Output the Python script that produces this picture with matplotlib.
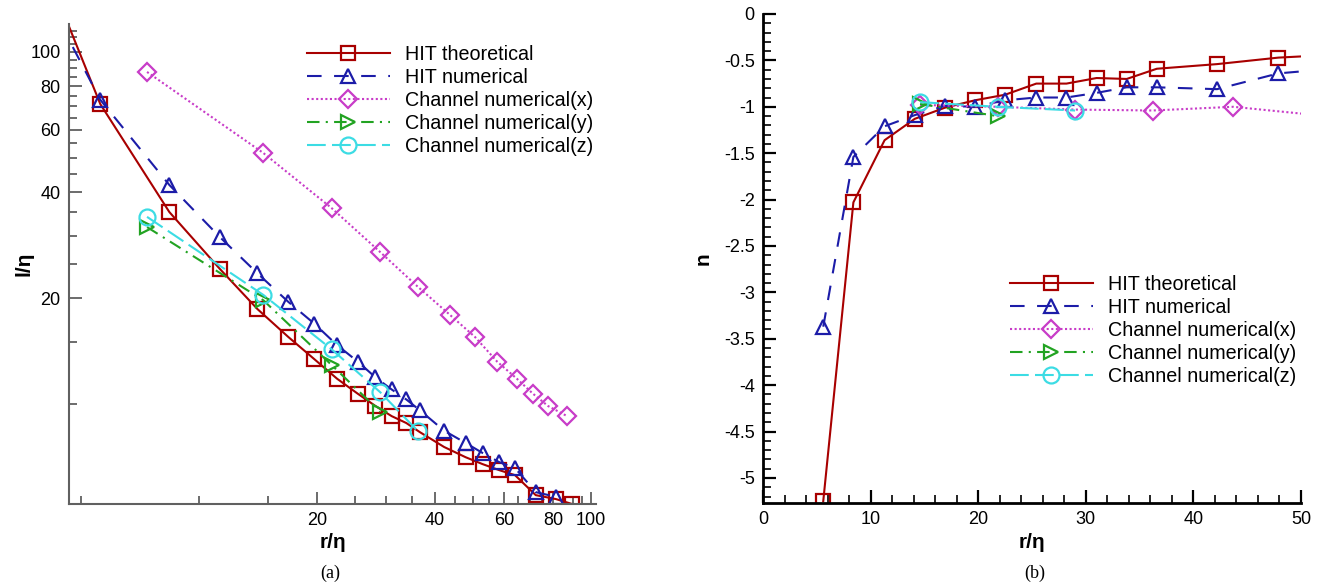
import matplotlib
matplotlib.use("Agg")
import matplotlib.pyplot as plt
from matplotlib.ticker import FixedLocator, FuncFormatter, NullFormatter, MultipleLocator

plt.rcParams["font.family"] = ["Liberation Sans", "DejaVu Sans"]

# separations r/eta shared by the HIT series
r_hit = [4.0, 5.6, 8.4, 11.3, 14.1, 16.9, 19.7, 22.5, 25.4, 28.2, 31.0, 33.8,
         36.6, 42.2, 47.9, 52.9, 58.3, 64.0, 72.3, 81.4, 89.5]
r_chan = [7.37, 14.6, 21.8, 29.0, 36.2, 43.7, 50.6, 57.6, 64.7, 71.1, 77.7, 86.9]

# (a) integral length l/eta
l_hit_theo = [180, 71.1, 35.1, 24.2, 18.6, 15.5, 13.4, 11.8, 10.7, 9.87, 9.24, 8.83,
              8.32, 7.55, 7.06, 6.75, 6.49, 6.28, 5.51, 5.37, 5.2]
l_hit_num = [150, 73.1, 41.9, 29.8, 23.5, 19.5, 16.9, 14.7, 13.2, 11.9, 11.0, 10.3,
             9.6, 8.4, 7.75, 7.26, 6.84, 6.58, 5.62, 5.45]
l_chan_x = [87.7, 51.6, 36.0, 27.0, 21.5, 17.9, 15.5, 13.2, 11.8, 10.7, 9.87, 9.24]
l_chan_y = [31.8, 19.7, 12.9, 9.5]
l_chan_z = [34.0, 20.4, 14.3, 10.8, 8.37]

# (b) local slope n
n_hit_theo = [-5.25, -2.03, -1.36, -1.13, -1.01, -0.93, -0.87, -0.75, -0.75, -0.69,
              -0.70, -0.59, -0.54, -0.47, -0.44]
n_hit_num = [-3.37, -1.54, -1.21, -1.09, -0.99, -1.0, -0.93, -0.90, -0.90, -0.85,
             -0.79, -0.79, -0.81, -0.64, -0.59]
n_chan_x = [-0.98, -1.0, -1.03, -1.04, -1.0, -1.08]
n_chan_y = [-0.97, -1.1]
n_chan_z = [-0.95, -1.0, -1.04]

labels = ["HIT theoretical", "HIT numerical", "Channel numerical(x)",
          "Channel numerical(y)", "Channel numerical(z)"]
styles = [
    dict(color="#a80000", marker="s", ls="-"),
    dict(color="#1c1ca8", marker="^", dashes=(7, 6)),
    dict(color="#c83cc8", marker="D", dashes=(1, 1.2), ms=9),
    dict(color="#22a322", marker=">", dashes=(6, 3, 1, 3)),
    dict(color="#3cdce4", marker="o", dashes=(9, 3), ms=11.5),
]


def draw(ax, xs, ys, xmax):
    for x, y, lab, st in zip(xs, ys, labels, styles):
        kw = dict(lw=1.5, ms=10, mfc="none", mew=1.6)
        kw.update(st)
        # markers only for points inside the axis range, the line runs on to the edge
        inside = [i for i, v in enumerate(x) if v <= xmax]
        ax.plot(x, y, label=lab, markevery=inside, **kw)


fig = plt.figure(figsize=(13.19, 5.87), dpi=100)
W, H = 1319, 587
fmt = FuncFormatter(lambda v, p: f"{v:g}")
leg_kw = dict(bbox_transform=fig.transFigure, frameon=False, fontsize=14.2,
              handlelength=4.2, handletextpad=0.75, labelspacing=0.2,
              borderpad=0, borderaxespad=0, loc="upper left")

# ---- (a) ----
ax1 = fig.add_axes([69 / W, 1 - 504 / H, (596 - 69) / W, (504 - 24) / H])
draw(ax1,
     [r_hit, r_hit[:len(l_hit_num)], r_chan, r_chan[:4], r_chan[:5]],
     [l_hit_theo, l_hit_num, l_chan_x, l_chan_y, l_chan_z], 103)
ax1.set_xscale("log")
ax1.set_yscale("log")
ax1.set_xlim(4.66, 103)
ax1.set_ylim(5.2, 120)
ax1.xaxis.set_major_locator(FixedLocator([20, 40, 60, 80, 100]))
ax1.xaxis.set_minor_locator(FixedLocator([v for v in range(5, 100, 5) if v % 20]))
ax1.yaxis.set_major_locator(FixedLocator([20, 40, 60, 80, 100]))
ax1.yaxis.set_minor_locator(FixedLocator([v for v in range(5, 120, 5) if v % 20]))
for a in (ax1.xaxis, ax1.yaxis):
    a.set_major_formatter(fmt)
    a.set_minor_formatter(NullFormatter())
for s in ("top", "right"):
    ax1.spines[s].set_visible(False)
for s in ("left", "bottom"):
    ax1.spines[s].set_color("#606060")
    ax1.spines[s].set_linewidth(1.5)
ax1.tick_params(which="major", direction="in", length=9, width=1.3, color="#606060",
                labelsize=13, pad=6)
ax1.tick_params(which="minor", direction="in", length=6, width=1.3, color="#606060")
ax1.set_xlabel("r/η", fontsize=15, fontweight="bold", labelpad=3)
ax1.set_ylabel("l/η", fontsize=15, fontweight="bold", labelpad=-2)
ax1.legend(bbox_to_anchor=(307 / W, 1 - 45 / H), **leg_kw)

# ---- (b) ----
ax2 = fig.add_axes([763 / W, 1 - 503 / H, (1301 - 763) / W, (503 - 14) / H])
draw(ax2,
     [r_hit[1:16], r_hit[1:16], r_chan[1:7], r_chan[1:3], r_chan[1:4]],
     [n_hit_theo, n_hit_num, n_chan_x, n_chan_y, n_chan_z], 50)
ax2.set_xlim(0, 50)
ax2.set_ylim(-5.27, 0)
ax2.xaxis.set_major_locator(MultipleLocator(10))
ax2.xaxis.set_minor_locator(MultipleLocator(2))
ax2.yaxis.set_major_locator(MultipleLocator(0.5))
ax2.yaxis.set_minor_locator(MultipleLocator(0.1))
ax2.xaxis.set_major_formatter(fmt)
ax2.yaxis.set_major_formatter(fmt)
for s in ("top", "right"):
    ax2.spines[s].set_visible(False)
for s in ("left", "bottom"):
    ax2.spines[s].set_linewidth(2)
ax2.tick_params(which="major", direction="in", length=9.5, width=1.6,
                labelsize=13, pad=6)
ax2.tick_params(which="minor", direction="in", length=5.5, width=1.2)
ax2.set_xlabel("r/η", fontsize=15, fontweight="bold", labelpad=3)
ax2.set_ylabel("n", fontsize=15, fontweight="bold", labelpad=8)
ax2.legend(bbox_to_anchor=(1010 / W, 1 - 275 / H), **leg_kw)

fig.text(330 / W, 1 - 573 / H, "(a)", family="Liberation Serif", fontsize=13,
         ha="center", va="center")
fig.text(1035 / W, 1 - 573 / H, "(b)", family="Liberation Serif", fontsize=13,
         ha="center", va="center")

fig.savefig("out.png", dpi=100)
